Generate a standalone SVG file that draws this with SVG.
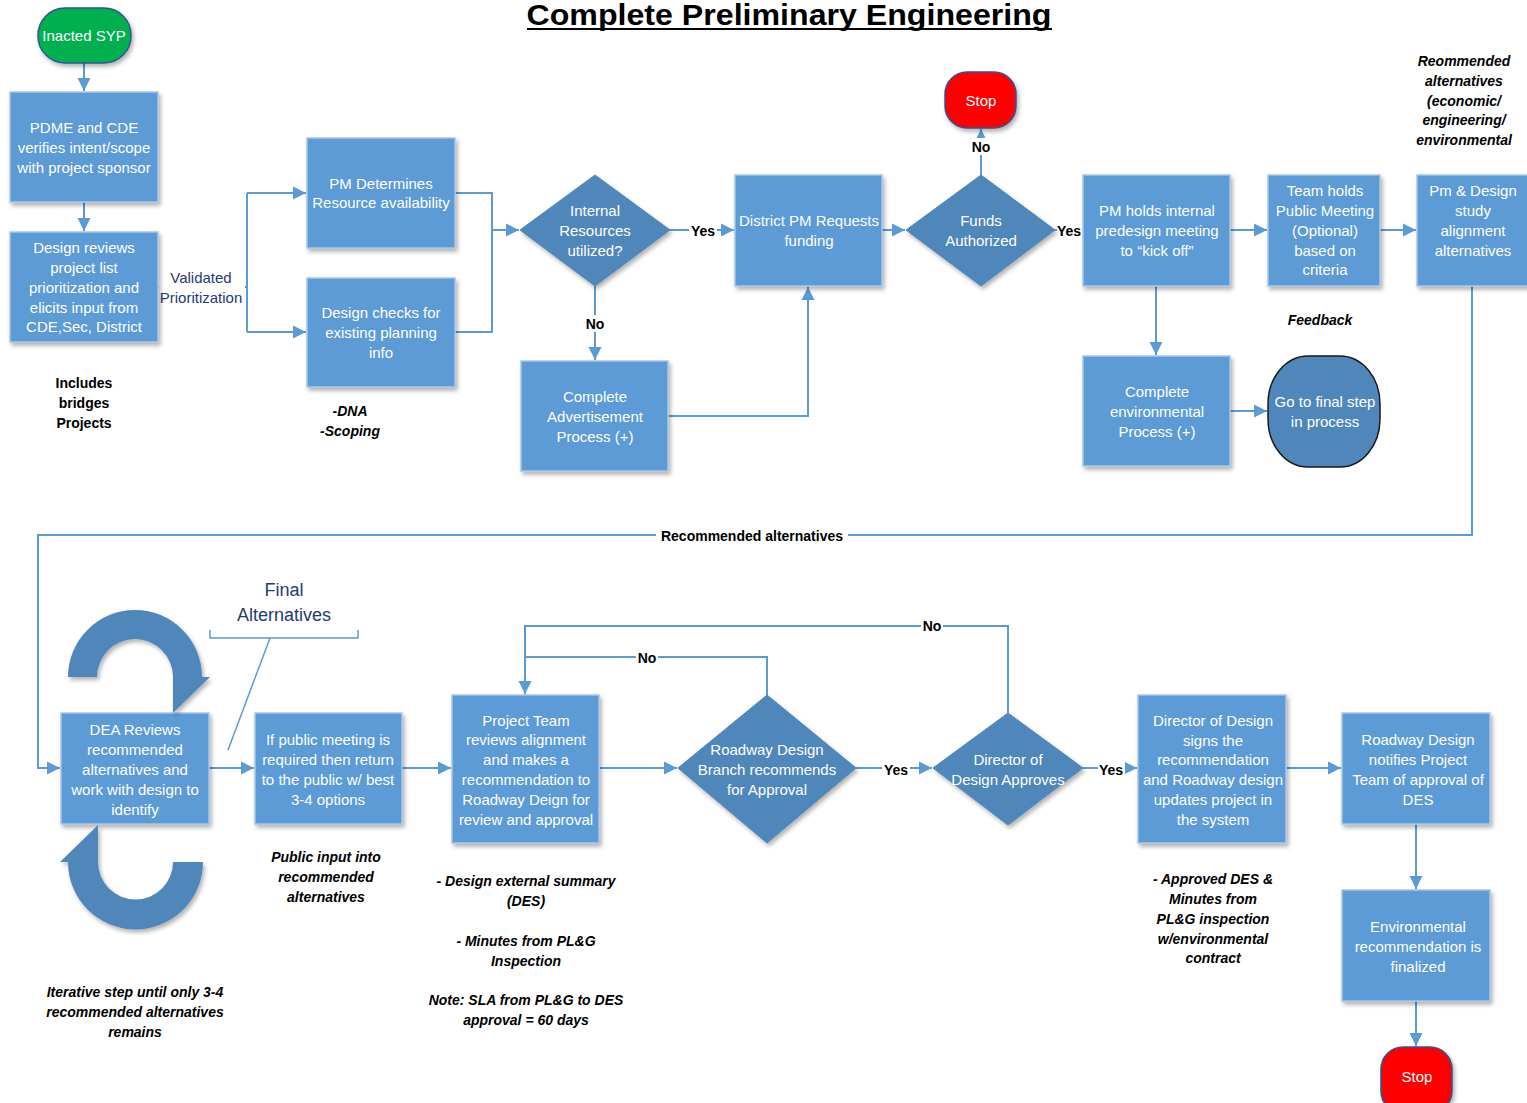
<svg xmlns="http://www.w3.org/2000/svg" width="1527" height="1103" viewBox="0 0 1527 1103">
<defs>
<filter id="sh" x="-10%" y="-10%" width="130%" height="130%">
<feDropShadow dx="2" dy="3" stdDeviation="2" flood-color="#000" flood-opacity="0.3"/>
</filter>
<marker id="ah" viewBox="0 0 10 10" refX="10" refY="5" markerWidth="13" markerHeight="14" markerUnits="userSpaceOnUse" orient="auto">
<path d="M0,0 L10,5 L0,10 z" fill="#5b9bd5"/>
</marker>
</defs>
<style>
.box{fill:#5b9bd5;stroke:#a8c6e6;stroke-width:1.5;filter:url(#sh)}
.dia{fill:#4f87ba;stroke:#4f87ba;stroke-width:1;filter:url(#sh)}
.t{font-family:"Liberation Sans",Arial,sans-serif;font-size:15px;fill:#fff;text-anchor:middle}
.lbl{font-family:"Liberation Sans",Arial,sans-serif;font-size:14px;font-weight:bold;fill:#000;text-anchor:middle}
.note{font-family:"Liberation Sans",Arial,sans-serif;font-size:14px;font-weight:bold;font-style:italic;fill:#000;text-anchor:middle}
.nb{font-family:"Liberation Sans",Arial,sans-serif;font-size:14px;font-weight:bold;fill:#000;text-anchor:middle}
.navy{font-family:"Liberation Sans",Arial,sans-serif;fill:#1f3b70;text-anchor:middle}
.c{fill:none;stroke:#5b9bd5;stroke-width:2}
.ca{fill:none;stroke:#5b9bd5;stroke-width:2;marker-end:url(#ah)}
.thin{fill:none;stroke:#5b9bd5;stroke-width:1.5}
</style>
<rect width="1527" height="1103" fill="#fff"/>

<!-- Title -->
<text x="789" y="25" font-family="Liberation Sans,Arial,sans-serif" font-size="29" font-weight="bold" text-anchor="middle" textLength="525" lengthAdjust="spacingAndGlyphs" fill="#000">Complete Preliminary Engineering</text>
<line x1="527" y1="29" x2="1052" y2="29" stroke="#000" stroke-width="2"/>

<!-- Connectors -->
<g id="connectors">
<path class="ca" d="M84,63 V91"/>
<path class="ca" d="M84,202 V231"/>
<path class="c" d="M158,287 H247"/>
<path class="c" d="M247,193 V332"/>
<path class="ca" d="M247,193 H306"/>
<path class="ca" d="M247,332 H306"/>
<path class="c" d="M455,193 H492 V332 H455"/>
<path class="ca" d="M492,230 H519"/>
<path class="ca" d="M670,230 H734"/>
<path class="ca" d="M595,286 V360"/>
<path class="ca" d="M668,416 H808 V287"/>
<path class="ca" d="M882,230 H905"/>
<path class="ca" d="M981,175 V129"/>
<path class="ca" d="M1055,230 H1082"/>
<path class="ca" d="M1230,230 H1267"/>
<path class="ca" d="M1380,230 H1416"/>
<path class="ca" d="M1156,286 V355"/>
<path class="ca" d="M1230,411 H1267"/>
<path class="ca" d="M1472,286 V535 H38 V768 H60"/>
<path class="ca" d="M209,768 H254"/>
<path class="ca" d="M402,768 H451"/>
<path class="ca" d="M599,768 H677"/>
<path class="ca" d="M767,695 V657 H525 V694"/>
<path class="c" d="M1008,713 V626 H525 V657"/>
<path class="ca" d="M856,768 H932"/>
<path class="ca" d="M1083,768 H1137"/>
<path class="ca" d="M1286,768 H1341"/>
<path class="ca" d="M1416,824 V889"/>
<path class="ca" d="M1416,1001 V1046"/>
<path class="thin" d="M210,630 V638 H358 V630"/>
<path class="thin" d="M270,638 L228,750"/>
<!-- label backgrounds -->
<rect x="689" y="222" width="28" height="17" fill="#fff"/>
<rect x="584" y="315" width="22" height="17" fill="#fff"/>
<rect x="970" y="138" width="22" height="17" fill="#fff"/>
<rect x="1057" y="222" width="25" height="17" fill="#fff"/>
<rect x="656" y="527" width="192" height="17" fill="#fff"/>
<rect x="636" y="649" width="22" height="17" fill="#fff"/>
<rect x="921" y="617" width="22" height="17" fill="#fff"/>
<rect x="882" y="761" width="28" height="17" fill="#fff"/>
<rect x="1098" y="761" width="27" height="17" fill="#fff"/>
<rect x="159" y="266" width="86" height="40" fill="#fff"/>
<text class="lbl" x="703" y="236">Yes</text>
<text class="lbl" x="595" y="329">No</text>
<text class="lbl" x="981" y="152">No</text>
<text class="lbl" x="1069" y="236">Yes</text>
<text class="lbl" x="752" y="541" font-size="14">Recommended alternatives</text>
<text class="lbl" x="647" y="663">No</text>
<text class="lbl" x="932" y="631">No</text>
<text class="lbl" x="896" y="775">Yes</text>
<text class="lbl" x="1111" y="775">Yes</text>
<text class="navy" x="201" y="283" font-size="15">Validated</text>
<text class="navy" x="201" y="303" font-size="15">Prioritization</text>
</g>

<!-- Nodes -->
<g id="inacted">
<rect x="38" y="8" width="93" height="55" rx="27" ry="27" fill="#00b050" stroke="#2f5597" stroke-width="1.5" filter="url(#sh)"/>
<text class="t" x="84" y="41">Inacted SYP</text>
</g>
<g id="pdme">
<rect class="box" x="10" y="92" width="148" height="110"/>
<text class="t" x="84" y="133">PDME and CDE</text>
<text class="t" x="84" y="153">verifies intent/scope</text>
<text class="t" x="84" y="173">with project sponsor</text>
</g>
<g id="review">
<rect class="box" x="10" y="232" width="148" height="110"/>
<text class="t" x="84" y="253">Design reviews</text>
<text class="t" x="84" y="273">project list</text>
<text class="t" x="84" y="293">prioritization and</text>
<text class="t" x="84" y="313">elicits input from</text>
<text class="t" x="84" y="332">CDE,Sec, District</text>
</g>
<g id="pmdet">
<rect class="box" x="307" y="138" width="148" height="110"/>
<text class="t" x="381" y="189">PM Determines</text>
<text class="t" x="381" y="208">Resource availability</text>
</g>
<g id="dchecks">
<rect class="box" x="307" y="278" width="148" height="109"/>
<text class="t" x="381" y="318">Design checks for</text>
<text class="t" x="381" y="338">existing planning</text>
<text class="t" x="381" y="358">info</text>
</g>
<g id="internal">
<polygon class="dia" points="595,175 670,230 595,286 520,230"/>
<text class="t" x="595" y="216">Internal</text>
<text class="t" x="595" y="236">Resources</text>
<text class="t" x="595" y="256">utilized?</text>
</g>
<g id="advert">
<rect class="box" x="521" y="361" width="147" height="110"/>
<text class="t" x="595" y="402">Complete</text>
<text class="t" x="595" y="422">Advertisement</text>
<text class="t" x="595" y="442">Process (+)</text>
</g>
<g id="district">
<rect class="box" x="735" y="175" width="147" height="111"/>
<text class="t" x="809" y="226">District PM Requests</text>
<text class="t" x="809" y="246">funding</text>
</g>
<g id="funds">
<polygon class="dia" points="981,175 1055,230 981,286 906,230"/>
<text class="t" x="981" y="226">Funds</text>
<text class="t" x="981" y="246">Authorized</text>
</g>
<g id="stop1">
<rect x="945" y="72" width="71" height="56" rx="22" ry="22" fill="#ff0000" stroke="#2f5597" stroke-width="1.5" filter="url(#sh)"/>
<text class="t" x="981" y="106">Stop</text>
</g>
<g id="pmholds">
<rect class="box" x="1083" y="175" width="147" height="111"/>
<text class="t" x="1157" y="216">PM holds internal</text>
<text class="t" x="1157" y="236">predesign meeting</text>
<text class="t" x="1157" y="256">to “kick off”</text>
</g>
<g id="team">
<rect class="box" x="1268" y="175" width="112" height="111"/>
<text class="t" x="1325" y="196">Team holds</text>
<text class="t" x="1325" y="216">Public Meeting</text>
<text class="t" x="1325" y="236">(Optional)</text>
<text class="t" x="1325" y="256">based on</text>
<text class="t" x="1325" y="275">criteria</text>
</g>
<g id="pmdesign">
<rect class="box" x="1417" y="175" width="114" height="111"/>
<text class="t" x="1473" y="196">Pm &amp; Design</text>
<text class="t" x="1473" y="216">study</text>
<text class="t" x="1473" y="236">alignment</text>
<text class="t" x="1473" y="256">alternatives</text>
</g>
<g id="env">
<rect class="box" x="1083" y="356" width="147" height="110"/>
<text class="t" x="1157" y="397">Complete</text>
<text class="t" x="1157" y="417">environmental</text>
<text class="t" x="1157" y="437">Process (+)</text>
</g>
<g id="gofinal">
<rect x="1268" y="356" width="112" height="111" rx="40" ry="48" fill="#4f87ba" stroke="#1a1a1a" stroke-width="1.5"/>
<text class="t" x="1325" y="407">Go to final step</text>
<text class="t" x="1325" y="427">in process</text>
</g>
<g id="dea">
<rect class="box" x="61" y="713" width="148" height="111"/>
<text class="t" x="135" y="735">DEA Reviews</text>
<text class="t" x="135" y="755">recommended</text>
<text class="t" x="135" y="775">alternatives and</text>
<text class="t" x="135" y="795">work with design to</text>
<text class="t" x="135" y="815">identify</text>
</g>
<g id="loop-top">
<path d="M68,677 A67,67 0 0 1 202,677 L210,677 L173,713 L173,677 A38,38 0 0 0 97,677 Z" fill="#4f87ba" filter="url(#sh)"/>
</g>
<g id="loop-bottom">
<path d="M203,862 A67.5,67.5 0 0 1 68,862 L60,862 L98,825 L98,862 A37.5,37.5 0 0 0 173,862 Z" fill="#4f87ba" filter="url(#sh)"/>
</g>
<g id="ifpublic">
<rect class="box" x="255" y="713" width="147" height="111"/>
<text class="t" x="328" y="745">If public meeting is</text>
<text class="t" x="328" y="765">required then return</text>
<text class="t" x="328" y="785">to the public w/ best</text>
<text class="t" x="328" y="805">3-4 options</text>
</g>
<g id="projteam">
<rect class="box" x="452" y="695" width="147" height="148"/>
<text class="t" x="526" y="726">Project Team</text>
<text class="t" x="526" y="745">reviews alignment</text>
<text class="t" x="526" y="765">and makes a</text>
<text class="t" x="526" y="785">recommendation to</text>
<text class="t" x="526" y="805">Roadway Deign for</text>
<text class="t" x="526" y="825">review and approval</text>
</g>
<g id="roadway">
<polygon class="dia" points="767,695 856,768 767,843 678,768"/>
<text class="t" x="767" y="755">Roadway Design</text>
<text class="t" x="767" y="775">Branch recommends</text>
<text class="t" x="767" y="795">for Approval</text>
</g>
<g id="director">
<polygon class="dia" points="1008,713 1083,768 1008,825 933,768"/>
<text class="t" x="1008" y="765">Director of</text>
<text class="t" x="1008" y="785">Design Approves</text>
</g>
<g id="dirsigns">
<rect class="box" x="1138" y="695" width="148" height="148"/>
<text class="t" x="1213" y="726">Director of Design</text>
<text class="t" x="1213" y="746">signs the</text>
<text class="t" x="1213" y="765">recommendation</text>
<text class="t" x="1213" y="785">and Roadway design</text>
<text class="t" x="1213" y="805">updates project in</text>
<text class="t" x="1213" y="825">the system</text>
</g>
<g id="notifies">
<rect class="box" x="1342" y="713" width="148" height="111"/>
<text class="t" x="1418" y="745">Roadway Design</text>
<text class="t" x="1418" y="765">notifies Project</text>
<text class="t" x="1418" y="785">Team of approval of</text>
<text class="t" x="1418" y="805">DES</text>
</g>
<g id="envrec">
<rect class="box" x="1342" y="890" width="148" height="111"/>
<text class="t" x="1418" y="932">Environmental</text>
<text class="t" x="1418" y="952">recommendation is</text>
<text class="t" x="1418" y="972">finalized</text>
</g>
<g id="stop2">
<rect x="1381" y="1047" width="71" height="66" rx="22" ry="22" fill="#ff0000" stroke="#2f5597" stroke-width="1.5" filter="url(#sh)"/>
<text class="t" x="1417" y="1082">Stop</text>
</g>

<!-- Annotations -->
<g id="notes">
<text class="nb" x="84" y="388">Includes</text>
<text class="nb" x="84" y="408">bridges</text>
<text class="nb" x="84" y="428">Projects</text>
<text class="note" x="350" y="416">-DNA</text>
<text class="note" x="350" y="436">-Scoping</text>
<text class="note" x="1464" y="66">Reommended</text>
<text class="note" x="1464" y="86">alternatives</text>
<text class="note" x="1464" y="106">(economic/</text>
<text class="note" x="1464" y="125">engineering/</text>
<text class="note" x="1464" y="145">environmental</text>
<text class="note" x="1320" y="325">Feedback</text>
<text class="navy" x="284" y="596" font-size="18">Final</text>
<text class="navy" x="284" y="621" font-size="18">Alternatives</text>
<text class="note" x="326" y="862">Public input into</text>
<text class="note" x="326" y="882">recommended</text>
<text class="note" x="326" y="902">alternatives</text>
<text class="note" x="526" y="886">- Design external summary</text>
<text class="note" x="526" y="906">(DES)</text>
<text class="note" x="526" y="946">- Minutes from PL&amp;G</text>
<text class="note" x="526" y="966">Inspection</text>
<text class="note" x="526" y="1005">Note: SLA from PL&amp;G to DES</text>
<text class="note" x="526" y="1025">approval = 60 days</text>
<text class="note" x="135" y="997">Iterative step until only 3-4</text>
<text class="note" x="135" y="1017">recommended alternatives</text>
<text class="note" x="135" y="1037">remains</text>
<text class="note" x="1213" y="884">- Approved DES &amp;</text>
<text class="note" x="1213" y="904">Minutes from</text>
<text class="note" x="1213" y="924">PL&amp;G inspection</text>
<text class="note" x="1213" y="944">w/environmental</text>
<text class="note" x="1213" y="963">contract</text>
</g>
</svg>
